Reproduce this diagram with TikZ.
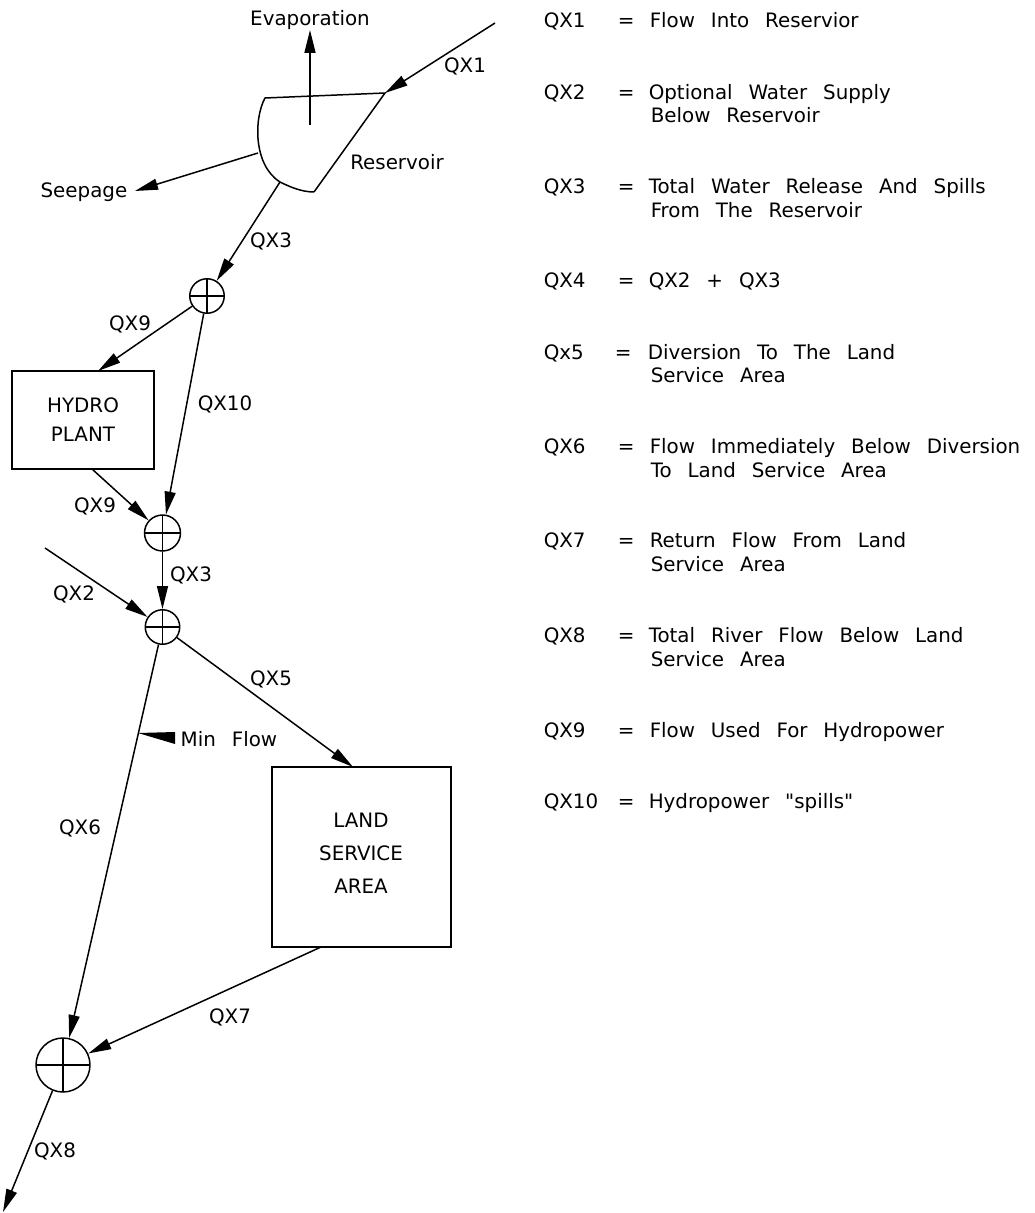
\documentclass[tikz,border=0pt]{standalone}
\usepackage{fontspec}
\newfontfamily\cadfont{DejaVu Sans}
\newcommand{\cadtext}{\cadfont\fontsize{11.3}{14}\selectfont\spaceskip 0.8em\relax}
\usepackage{tikz}
\usetikzlibrary{arrows.meta, positioning}

\begin{document}
\begin{tikzpicture}[
  x=0.02cm, y=-0.02cm, line width=0.85pt,
  flow/.style={-{Triangle[length=0.46cm, width=0.22cm]}},
  junction/.style={draw, circle, inner sep=0pt, path picture={
      \draw (path picture bounding box.north) -- (path picture bounding box.south);
      \draw (path picture bounding box.west) -- (path picture bounding box.east);}},
  lbl/.style={inner sep=0pt, text height=8.25pt, text depth=0pt, font=\cadtext},
  key/.style={lbl, anchor=west}
]
  \useasboundingbox (0,0) rectangle (1034,1213);

  % Reservoir
  \coordinate (rnw) at (265,98);
  \coordinate (rne) at (385,93);
  \coordinate (rs) at (314,192);
  \coordinate (rseep) at (258,153);
  \coordinate (rout) at (280,182);
  \draw (rs) -- (rne) -- (rnw) .. controls (254,118) and (253,165) .. (rout) .. controls (290,187) and (302,192) .. (rs);
  \node[lbl] (reslabel) at (397,162) {Reservoir};

  \coordinate (qx1start) at (495,23);
  \draw[flow] (qx1start) -- (rne);
  \node[lbl] (qx1label) at (465,65) {QX1};

  \coordinate (evapstart) at (310,125);
  \coordinate (evapend) at (310,30);
  \node[lbl] (evaplabel) at (310,18) {Evaporation};
  \draw[flow] (evapstart) -- (evapend);

  \coordinate (seepend) at (135,191);
  \node[lbl, anchor=east] (seeplabel) at (128,190) {Seepage};
  \draw[flow] (rseep) -- (seepend);

  % Junctions
  \node[junction, minimum size=0.69cm] (jtop) at (207,296) {};
  \node[junction, minimum size=0.72cm] (jmid) at (162.5,533) {};
  \node[junction, minimum size=0.69cm] (jlow) at (162.5,627) {};
  \node[junction, minimum size=1.08cm] (jend) at (63,1065) {};

  % Boxes
  \node[draw, minimum width=2.84cm, minimum height=1.96cm] (plant) at (83,420) {};
  \node[lbl] (plant1) at (83,405) {HYDRO};
  \node[lbl] (plant2) at (83,434) {PLANT};
  \node[draw, minimum width=3.58cm, minimum height=3.6cm] (land) at (361.5,857) {};
  \node[lbl] (land1) at (361,820) {LAND};
  \node[lbl] (land2) at (361,853) {SERVICE};
  \node[lbl] (land3) at (361,886) {AREA};

  \coordinate (plantin) at (98,371);
  \coordinate (plantout) at (92,469);
  \coordinate (landin) at (353,767);
  \coordinate (landout) at (321,947);
  \coordinate (qx2start) at (45,548);
  \coordinate (qx8end) at (3,1212);

  % Flows
  \draw[flow] (rout) -- (jtop);
  \draw[flow] (jtop) -- (plantin);
  \draw[flow] (jtop) -- (jmid);
  \draw[flow] (plantout) -- (jmid);
  \draw[flow] (jmid) -- (jlow);
  \draw[flow] (qx2start) -- (jlow);
  \draw[flow] (jlow) -- (landin);
  \draw[flow] (jlow) -- (jend);
  \draw[flow] (landout) -- (jend);
  \draw[flow] (jend) -- (qx8end);

  \node[lbl] (qx3a) at (271,240) {QX3};
  \node[lbl] (qx9a) at (130,323) {QX9};
  \node[lbl] (qx10a) at (225,403) {QX10};
  \node[lbl] (qx9b) at (95,505) {QX9};
  \node[lbl] (qx3b) at (191,574) {QX3};
  \node[lbl] (qx2a) at (74,593) {QX2};
  \node[lbl] (qx5a) at (271,678) {QX5};
  \node[lbl] (qx6a) at (80,827) {QX6};
  \node[lbl] (qx7a) at (230,1016) {QX7};
  \node[lbl] (qx8a) at (55,1150) {QX8};

  % Min flow marker
  \fill (138,733) -- (175,732) -- (175,744) -- cycle;
  \node[key] (minflow) at (180,739) {Min Flow};

  % Legend
  \node[key] (k1) at (543,20) {QX1};
  \node[key] (e1) at (617,20) {=};
  \node[key] (d1) at (649,20) {Flow Into Reservior};

  \node[key] (k2) at (543,92) {QX2};
  \node[key] (e2) at (617,92) {=};
  \node[key] (d2) at (648,92) {Optional Water Supply};
  \node[key] (d2b) at (650,115) {Below Reservoir};

  \node[key] (k3) at (543,186) {QX3};
  \node[key] (e3) at (617,186) {=};
  \node[key] (d3) at (648,186) {Total Water Release And Spills};
  \node[key] (d3b) at (650,210) {From The Reservoir};

  \node[key] (k4) at (543,280) {QX4};
  \node[key] (e4) at (617,280) {=};
  \node[key] (d4) at (648,280) {QX2 + QX3};

  \node[key] (k5) at (543,352) {Qx5};
  \node[key] (e5) at (614,352) {=};
  \node[key] (d5) at (647,352) {Diversion To The Land};
  \node[key] (d5b) at (650,375) {Service Area};

  \node[key] (k6) at (543,446) {QX6};
  \node[key] (e6) at (617,446) {=};
  \node[key] (d6) at (649,446) {Flow Immediately Below Diversion};
  \node[key] (d6b) at (650,470) {To Land Service Area};

  \node[key] (k7) at (543,540) {QX7};
  \node[key] (e7) at (617,540) {=};
  \node[key] (d7) at (649,540) {Return Flow From Land};
  \node[key] (d7b) at (650,564) {Service Area};

  \node[key] (k8) at (543,635) {QX8};
  \node[key] (e8) at (617,635) {=};
  \node[key] (d8) at (648,635) {Total River Flow Below Land};
  \node[key] (d8b) at (650,659) {Service Area};

  \node[key] (k9) at (543,730) {QX9};
  \node[key] (e9) at (617,730) {=};
  \node[key] (d9) at (649,730) {Flow Used For Hydropower};

  \node[key] (k10) at (543,801) {QX10};
  \node[key] (e10) at (617,801) {=};
  \node[key] (d10) at (648,801) {Hydropower "spills"};
\end{tikzpicture}
\end{document}
